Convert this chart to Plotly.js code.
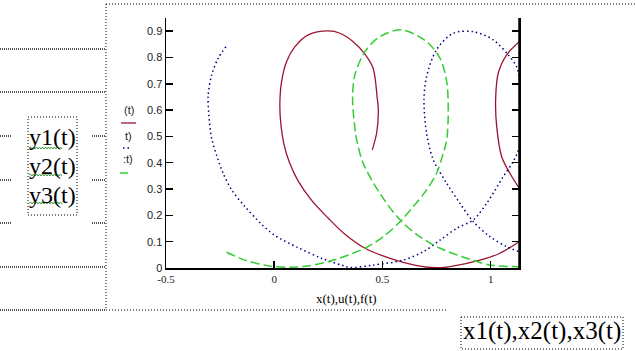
<!DOCTYPE html>
<html>
<head>
<meta charset="utf-8">
<script src="https://cdn.plot.ly/plotly-3.0.1.min.js"></script>
<style>
  html, body { margin: 0; padding: 0; background: #fff; }
  #chart { width: 635px; height: 351px; }
</style>
</head>
<body>
<div id="chart"></div>
<script>
// ---- data ----
const redX = [0.453,0.473,0.481,0.476,0.457,0.419,0.365,0.304,0.250,0.157,0.096,0.057,0.034,0.026,0.031,0.045,0.070,0.111,0.173,0.250,0.327,0.419,0.535,0.689,0.766,0.812,0.951,1.043,1.131,null,1.132,1.074,1.035,1.023,1.028,1.051,1.089,1.132];
const redY = [0.449,0.512,0.601,0.645,0.759,0.813,0.860,0.892,0.901,0.886,0.841,0.784,0.708,0.620,0.544,0.470,0.402,0.330,0.257,0.189,0.128,0.075,0.037,0.005,0.001,0.005,0.030,0.056,0.100,null,0.860,0.810,0.740,0.639,0.537,0.423,0.360,0.303];

const blueX = [-0.223,-0.259,-0.289,-0.305,-0.302,-0.289,-0.259,-0.236,-0.197,-0.135,-0.058,0.003,0.111,0.219,0.311,0.350,0.457,0.596,0.689,0.766,0.843,0.920,0.982,1.058,1.104,1.131,1.151,1.132,1.120,1.081,1.012,0.920,0.827,0.750,0.704,0.692,0.704,0.735,0.797,0.858,0.920,0.997,1.074,1.131];
const blueY = [0.841,0.797,0.734,0.658,0.582,0.493,0.411,0.360,0.297,0.233,0.166,0.124,0.077,0.037,0.011,0.002,0.011,0.030,0.062,0.106,0.151,0.183,0.246,0.347,0.404,0.456,0.600,0.722,0.765,0.810,0.867,0.898,0.892,0.829,0.727,0.639,0.512,0.411,0.322,0.246,0.176,0.119,0.081,0.062];

const greenX = [-0.220,-0.135,-0.043,0.003,0.080,0.157,0.250,0.311,0.419,0.504,0.581,0.642,0.704,0.750,0.781,0.797,0.804,0.797,0.766,0.704,0.589,0.488,0.419,0.373,0.362,0.373,0.381,0.411,0.488,0.581,0.673,0.766,0.889,0.997,1.131];
const greenY = [0.060,0.030,0.011,0.005,0.003,0.008,0.024,0.040,0.075,0.119,0.176,0.233,0.297,0.360,0.436,0.487,0.594,0.708,0.797,0.860,0.905,0.879,0.822,0.734,0.645,0.531,0.487,0.398,0.284,0.183,0.119,0.075,0.037,0.011,0.005];

const xTicks = [-0.5, 0, 0.5, 1];
const xTickText = ["-0.5", "0", "0.5", "1"];
const yTicks = [0, 0.1, 0.2, 0.3, 0.4, 0.5, 0.6, 0.7, 0.8, 0.9];
const yTickText = ["0", "0.1", "0.2", "0.3", "0.4", "0.5", "0.6", "0.7", "0.8", "0.9"];

const xTitle = "x(t),u(t),f(t)";
const legendTexts = ["(t)", "t)", ":t)"];
const yExprTexts = ["y1(t)", "y2(t)", "y3(t)"];
const xExprText = "x1(t),x2(t),x3(t)";

// ---- layout helpers (pixel -> paper) ----
const W = 635, H = 351, L = 166, R = 519, T = 18, B = 268;
const PX = x => (x - L) / (R - L);
const PY = y => (B - y) / (B - T);

const hatch = {color: '#555', width: 2, dash: '1px,1px'};
const fine = {color: '#000', width: 1, dash: '1px,2px'};

function hline(x0, x1, y, line) {
  return {type: 'line', xref: 'paper', yref: 'paper', x0: PX(x0), x1: PX(x1), y0: PY(y), y1: PY(y), line: line, layer: 'above'};
}
function vline(x, y0, y1, line) {
  return {type: 'line', xref: 'paper', yref: 'paper', x0: PX(x), x1: PX(x), y0: PY(y0), y1: PY(y1), line: line, layer: 'above'};
}
function rect(x0, y0, x1, y1, line) {
  return {type: 'rect', xref: 'paper', yref: 'paper', x0: PX(x0), x1: PX(x1), y0: PY(y0), y1: PY(y1), line: line, fillcolor: 'rgba(0,0,0,0)', layer: 'above'};
}
function squiggle(x0, x1, y) {
  let d = 'M' + PX(x0) + ',' + PY(y);
  let up = true;
  for (let x = x0 + 1.5; x <= x1; x += 1.5) {
    d += ' L' + PX(x) + ',' + PY(y + (up ? -1 : 1));
    up = !up;
  }
  return {type: 'path', xref: 'paper', yref: 'paper', path: d, line: {color: '#3c9a3c', width: 1}, layer: 'above'};
}

const shapes = [
  hline(106, 635, 4, fine),
  vline(106, 4, 310, fine),
  hline(0, 106, 49, hatch),
  hline(0, 106, 92, hatch),
  hline(0, 106, 267, hatch),
  hline(0, 106, 310, hatch),
  hline(106, 446, 310, fine),
  hline(0, 12, 136, hatch), hline(92, 106, 136, hatch),
  hline(0, 12, 180, hatch), hline(92, 106, 180, hatch),
  hline(0, 12, 223, hatch), hline(92, 106, 223, hatch),
  rect(28, 117, 77, 215, fine),
  rect(461, 317, 623, 349, fine),
  squiggle(29, 62, 148),
  squiggle(29, 62, 175),
  squiggle(29, 62, 203),
  // right axis line (Mathcad draws the frame's right side)
  vline(519, 18, 268, {color: '#000', width: 1.5}),
  // legend samples
  hline(121, 136, 123, {color: '#9a1530', width: 1.3}),
  hline(123, 131, 148, {color: '#000080', width: 1.5, dash: '1.5px,3px'}),
  hline(120, 128, 173, {color: '#33cc33', width: 1.5})
];

const annotations = [];
const legY = [110, 136, 159];
const legX = [122, 123, 121];
legendTexts.forEach((t, i) => annotations.push({
  text: t, xref: 'paper', yref: 'paper', x: PX(legX[i]), y: PY(legY[i]),
  xanchor: 'left', yanchor: 'middle', showarrow: false,
  font: {family: 'Liberation Sans, Arial', size: 11, color: '#222'}
}));
const exprY = [137, 166, 195];
yExprTexts.forEach((t, i) => annotations.push({
  text: t, xref: 'paper', yref: 'paper', x: PX(27), y: PY(exprY[i]),
  xanchor: 'left', yanchor: 'middle', showarrow: false,
  font: {family: 'Liberation Serif, Times New Roman', size: 24, color: '#000'}
}));
annotations.push({
  text: xExprText, xref: 'paper', yref: 'paper', x: PX(461), y: PY(331),
  xanchor: 'left', yanchor: 'middle', showarrow: false,
  font: {family: 'Liberation Serif, Times New Roman', size: 25, color: '#000'}
});
annotations.push({
  text: xTitle, xref: 'paper', yref: 'paper', x: PX(346), y: PY(298),
  xanchor: 'center', yanchor: 'middle', showarrow: false,
  font: {family: 'Liberation Serif, Times New Roman', size: 13, color: '#000'}
});

const traces = [
  {x: redX, y: redY, mode: 'lines', name: 'y1', connectgaps: false,
   line: {color: '#9a1530', width: 1.3, shape: 'spline', smoothing: 0.9}},
  {x: blueX, y: blueY, mode: 'lines', name: 'y2',
   line: {color: '#000080', width: 1.5, dash: '1.5px,3px', shape: 'spline', smoothing: 0.9}},
  {x: greenX, y: greenY, mode: 'lines', name: 'y3',
   line: {color: '#33cc33', width: 1.5, dash: '9px,4px', shape: 'spline', smoothing: 0.9}}
];

const layout = {
  width: W, height: H,
  margin: {l: L, r: W - R, t: T, b: H - B, pad: 0},
  paper_bgcolor: '#fff', plot_bgcolor: '#fff',
  showlegend: false,
  xaxis: {
    range: [-0.5, 1.131], showgrid: false, zeroline: false,
    showline: true, linecolor: '#000', linewidth: 1.5,
    ticks: 'inside', ticklen: 7, tickcolor: '#000', tickwidth: 1.5,
    tickvals: xTicks, ticktext: xTickText,
    tickfont: {family: 'Liberation Serif, Times New Roman', size: 11, color: '#222'}
  },
  yaxis: {
    range: [0, 0.95], showgrid: false, zeroline: false,
    showline: true, linecolor: '#000', linewidth: 1.5, mirror: 'ticks',
    ticks: 'inside', ticklen: 7, tickcolor: '#000', tickwidth: 1.5,
    tickvals: yTicks, ticktext: yTickText,
    tickfont: {family: 'Liberation Sans, Arial', size: 11, color: '#222'}
  },
  shapes: shapes,
  annotations: annotations
};

Plotly.newPlot('chart', traces, layout, {staticPlot: true, displayModeBar: false});
</script>
</body>
</html>
